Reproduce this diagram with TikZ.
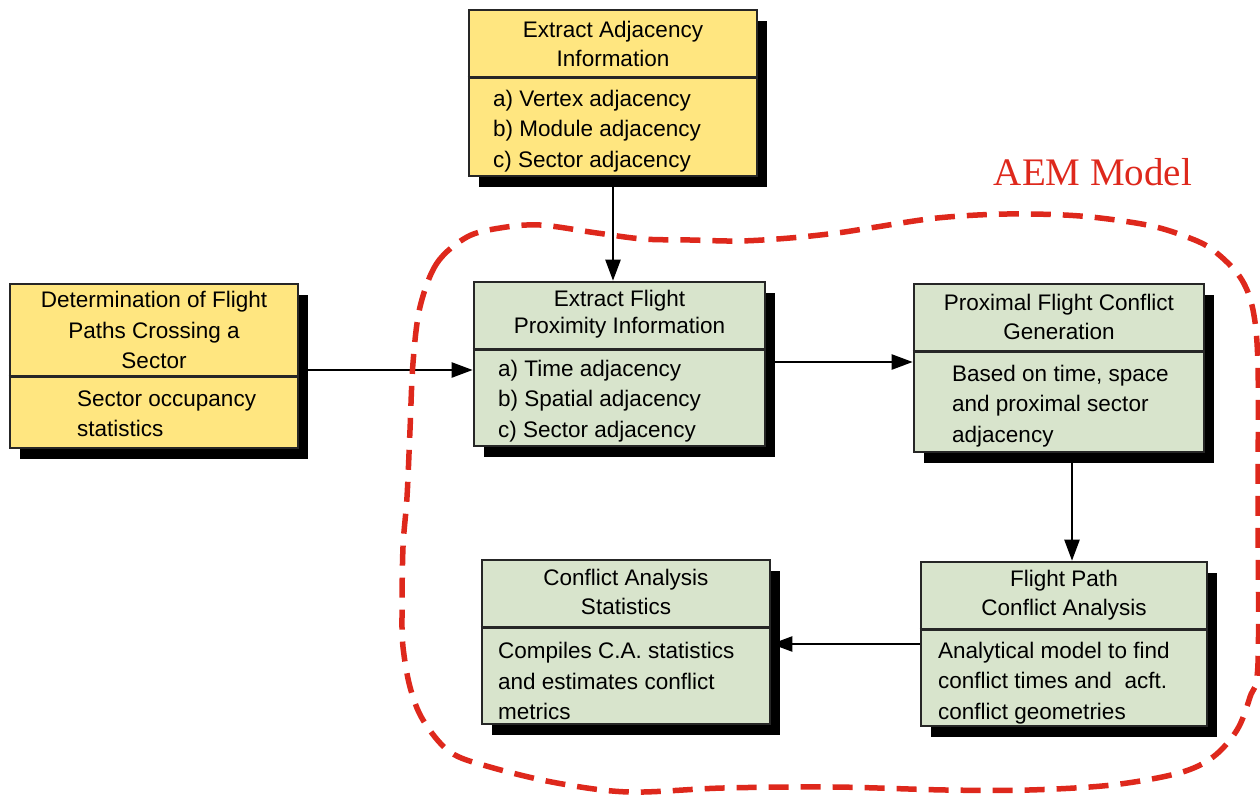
\documentclass[tikz,border=0pt]{standalone}
\usepackage{fontspec}
\setmainfont{Liberation Sans}
\newfontfamily\aemserif{Liberation Serif}
\usetikzlibrary{arrows.meta,shadows,calc}
\definecolor{boxyellow}{RGB}{255,230,128}
\definecolor{boxgreen}{RGB}{216,228,204}
\definecolor{aemred}{RGB}{222,40,28}
\begin{document}
\begin{tikzpicture}[x=1pt,y=-1pt,
  panel/.style={draw=black!85, line width=2.6pt, inner sep=0pt, rectangle,
    drop shadow={shadow xshift=10pt, shadow yshift=-11pt, fill=black, opacity=1}},
  ypanel/.style={panel, fill=boxyellow},
  gpanel/.style={panel, fill=boxgreen},
  divider/.style={draw=black!85, line width=2.6pt},
  title/.style={align=center, inner sep=0pt, font=\fontsize{22.5}{28.5}\selectfont},
  body/.style={align=left, anchor=west, inner sep=0pt, font=\fontsize{22.5}{30.5}\selectfont},
  flow/.style={line width=2.3pt, -{Triangle[length=21pt,width=15pt]}},
  region/.style={draw=aemred, line width=5.5pt, dash pattern=on 20pt off 12pt}]
\useasboundingbox (0,0) rectangle (1260,797);

% Extract Adjacency Information
\node[ypanel, minimum width=288pt, minimum height=166pt] (A) at (613,93) {};
\draw[divider] ([yshift=-69pt]A.north west) -- ([yshift=-69pt]A.north east);
\node[title] (At) at (613,44) {Extract Adjacency\\Information};
\node[body] (Ab) at (493,131) {a) Vertex adjacency\\b) Module adjacency\\c) Sector adjacency};

% Determination of Flight Paths Crossing a Sector
\node[ypanel, minimum width=288pt, minimum height=164pt] (B) at (154,366) {};
\draw[divider] ([yshift=-94pt]B.north west) -- ([yshift=-94pt]B.north east);
\node[title, font=\fontsize{22.5}{30.5}\selectfont] (Bt) at (154,330) {Determination of Flight\\Paths Crossing a\\Sector};
\node[body, font=\fontsize{22.5}{30}\selectfont] (Bb) at (77,414) {Sector occupancy\\statistics};

% Extract Flight Proximity Information
\node[gpanel, minimum width=291pt, minimum height=164pt] (C) at (619.5,364) {};
\draw[divider] ([yshift=-69pt]C.north west) -- ([yshift=-69pt]C.north east);
\node[title, font=\fontsize{22.5}{27}\selectfont] (Ct) at (619.5,314) {Extract Flight\\Proximity Information};
\node[body] (Cb) at (498,401) {a) Time adjacency\\b) Spatial adjacency\\c) Sector adjacency};

% Proximal Flight Conflict Generation
\node[gpanel, minimum width=290pt, minimum height=168pt] (D) at (1059,368) {};
\draw[divider] ([yshift=-69pt]D.north west) -- ([yshift=-69pt]D.north east);
\node[title] (Dt) at (1059,317) {Proximal Flight Conflict\\Generation};
\node[body] (Db) at (952,406) {Based on time, space\\and proximal sector\\adjacency};

% Conflict Analysis Statistics
\node[gpanel, minimum width=288pt, minimum height=164pt] (E) at (626,642) {};
\draw[divider] ([yshift=-69pt]E.north west) -- ([yshift=-69pt]E.north east);
\node[title] (Et) at (626,592) {Conflict Analysis\\Statistics};
\node[body] (Eb) at (498,681) {Compiles C.A. statistics\\and estimates conflict\\metrics};

% Flight Path Conflict Analysis
\node[gpanel, minimum width=286pt, minimum height=164pt] (F) at (1064,644) {};
\draw[divider] ([yshift=-69pt]F.north west) -- ([yshift=-69pt]F.north east);
\node[title] (Ft) at (1064,595) {Flight Path\\Conflict Analysis};
\node[body] (Fb) at (938,683) {Analytical model to find\\conflict times and\ \ acft.\\conflict geometries};

% Flow between the stages
\draw[flow] (A.south) -- (A.south |- C.north);
\draw[flow] ([yshift=-4pt]B.east) -- ([yshift=-4pt]B.east -| C.west);
\draw[flow] ([yshift=2pt]C.east) -- ([yshift=2pt]C.east -| D.west);
\draw[flow] ([xshift=13pt]D.south) -- ([xshift=13pt]D.south |- F.north);
\draw[flow] (F.west) -- (F.west -| E.east);

% AEM model boundary
\draw[region] plot[smooth cycle, tension=0.55] coordinates {
  (420,307) (437,263) (467,237) (500,228) (540,225) (597,233) (643,239)
  (690,240) (740,241) (790,238) (837,233) (870,228) (937,218) (1007,214)
  (1080,216) (1147,225) (1187,237) (1213,250) (1240,277) (1253,310)
  (1258,367) (1258,500) (1258,663) (1250,697) (1237,730) (1213,757)
  (1179,773) (1112,785) (1029,790) (946,790) (834,787) (723,788)
  (629,792) (557,783) (490,767) (450,752) (423,720) (410,687) (403,647)
  (402,613) (403,547) (407,497) (410,430) (413,363)};
\node[text=aemred, font=\aemserif\fontsize{39}{44}\selectfont, inner sep=0pt] (aem) at (1093,172) {AEM Model};
\end{tikzpicture}
\end{document}
